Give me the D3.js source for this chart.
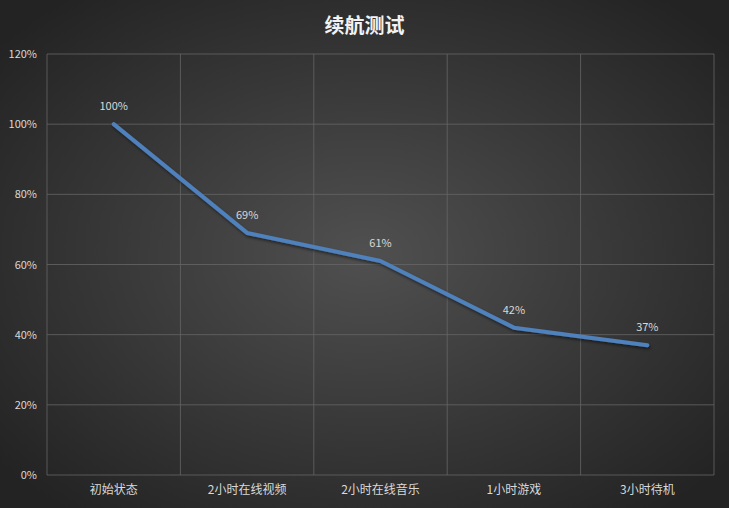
<!DOCTYPE html>
<html><head><meta charset="utf-8">
<script src="https://cdn.jsdelivr.net/npm/d3@7"></script>
<style>html,body{margin:0;padding:0;background:#2b2b2b;}svg{display:block;}</style>
</head><body>
<svg id="c" width="729" height="508"></svg>
<script>
const title = "续航测试";
const categories = ["初始状态","2小时在线视频","2小时在线音乐","1小时游戏","3小时待机"];
const values = [1.00, 0.69, 0.61, 0.42, 0.37];
const yTicks = [0, 0.2, 0.4, 0.6, 0.8, 1.0, 1.2];

const W = 729, H = 508;
const m = {left: 47, right: 15, top: 54, bottom: 33};
const svg = d3.select("#c");
const font = "'Noto Sans CJK SC', 'Microsoft YaHei', sans-serif";

const defs = svg.append("defs");
const rg = defs.append("radialGradient").attr("id","bg").attr("cx","50%").attr("cy","50%").attr("r","65%");
rg.append("stop").attr("offset","0%").attr("stop-color","#505050");
rg.append("stop").attr("offset","100%").attr("stop-color","#232323");
const f = defs.append("filter").attr("id","sh").attr("x","-10%").attr("y","-10%").attr("width","130%").attr("height","140%");
f.append("feDropShadow").attr("dx",1).attr("dy",2).attr("stdDeviation",1.5).attr("flood-color","#000").attr("flood-opacity",0.5);

svg.append("rect").attr("width",W).attr("height",H).attr("fill","url(#bg)");

const x = d3.scaleBand().domain(categories).range([m.left, W - m.right]).padding(0);
const y = d3.scaleLinear().domain([0, 1.2]).range([H - m.bottom, m.top]);

// horizontal gridlines
svg.append("g").selectAll("line").data(yTicks).join("line")
  .attr("x1", m.left).attr("x2", W - m.right)
  .attr("y1", d => y(d)).attr("y2", d => y(d))
  .attr("stroke", "#666").attr("stroke-width", 0.8);
// vertical gridlines at category boundaries
const bounds = categories.map(c => x(c)).concat([x(categories[categories.length-1]) + x.bandwidth()]);
svg.append("g").selectAll("line").data(bounds).join("line")
  .attr("x1", d => d).attr("x2", d => d)
  .attr("y1", y(1.2)).attr("y2", y(0))
  .attr("stroke", "#666").attr("stroke-width", 0.8);

// y axis labels
const yAxis = d3.axisLeft(y).tickValues(yTicks).tickFormat(d3.format(".0%")).tickSize(0).tickPadding(10);
const ya = svg.append("g").attr("transform", `translate(${m.left},0)`).call(yAxis);
ya.select(".domain").remove();
ya.selectAll("text").attr("fill","#d9d9d9").attr("font-size","11px").attr("font-family",font);

// x axis labels
const xAxis = d3.axisBottom(x).tickSize(0).tickPadding(10);
const xa = svg.append("g").attr("transform", `translate(0,${H - m.bottom})`).call(xAxis);
xa.select(".domain").remove();
xa.selectAll("text").attr("fill","#d9d9d9").attr("font-size","12px").attr("font-family",font);

// line
const line = d3.line().x((d,i) => x(categories[i]) + x.bandwidth()/2).y(d => y(d));
svg.append("path").datum(values).attr("d", line)
  .attr("fill","none").attr("stroke","#4f81bd").attr("stroke-width",4)
  .attr("stroke-linejoin","round").attr("stroke-linecap","round")
  .attr("filter","url(#sh)");

// data labels
svg.append("g").selectAll("text").data(values).join("text")
  .attr("x", (d,i) => x(categories[i]) + x.bandwidth()/2)
  .attr("y", d => y(d) - 14)
  .attr("text-anchor","middle")
  .attr("fill","#d9d9d9").attr("font-size","11px").attr("font-family",font)
  .text(d => d3.format(".0%")(d));

// title
svg.append("text").attr("x", W/2).attr("y", 33).attr("text-anchor","middle")
  .attr("fill","#f2f2f2").attr("font-size","20px").attr("font-weight","bold").attr("font-family",font)
  .text(title);
</script>
</body></html>
